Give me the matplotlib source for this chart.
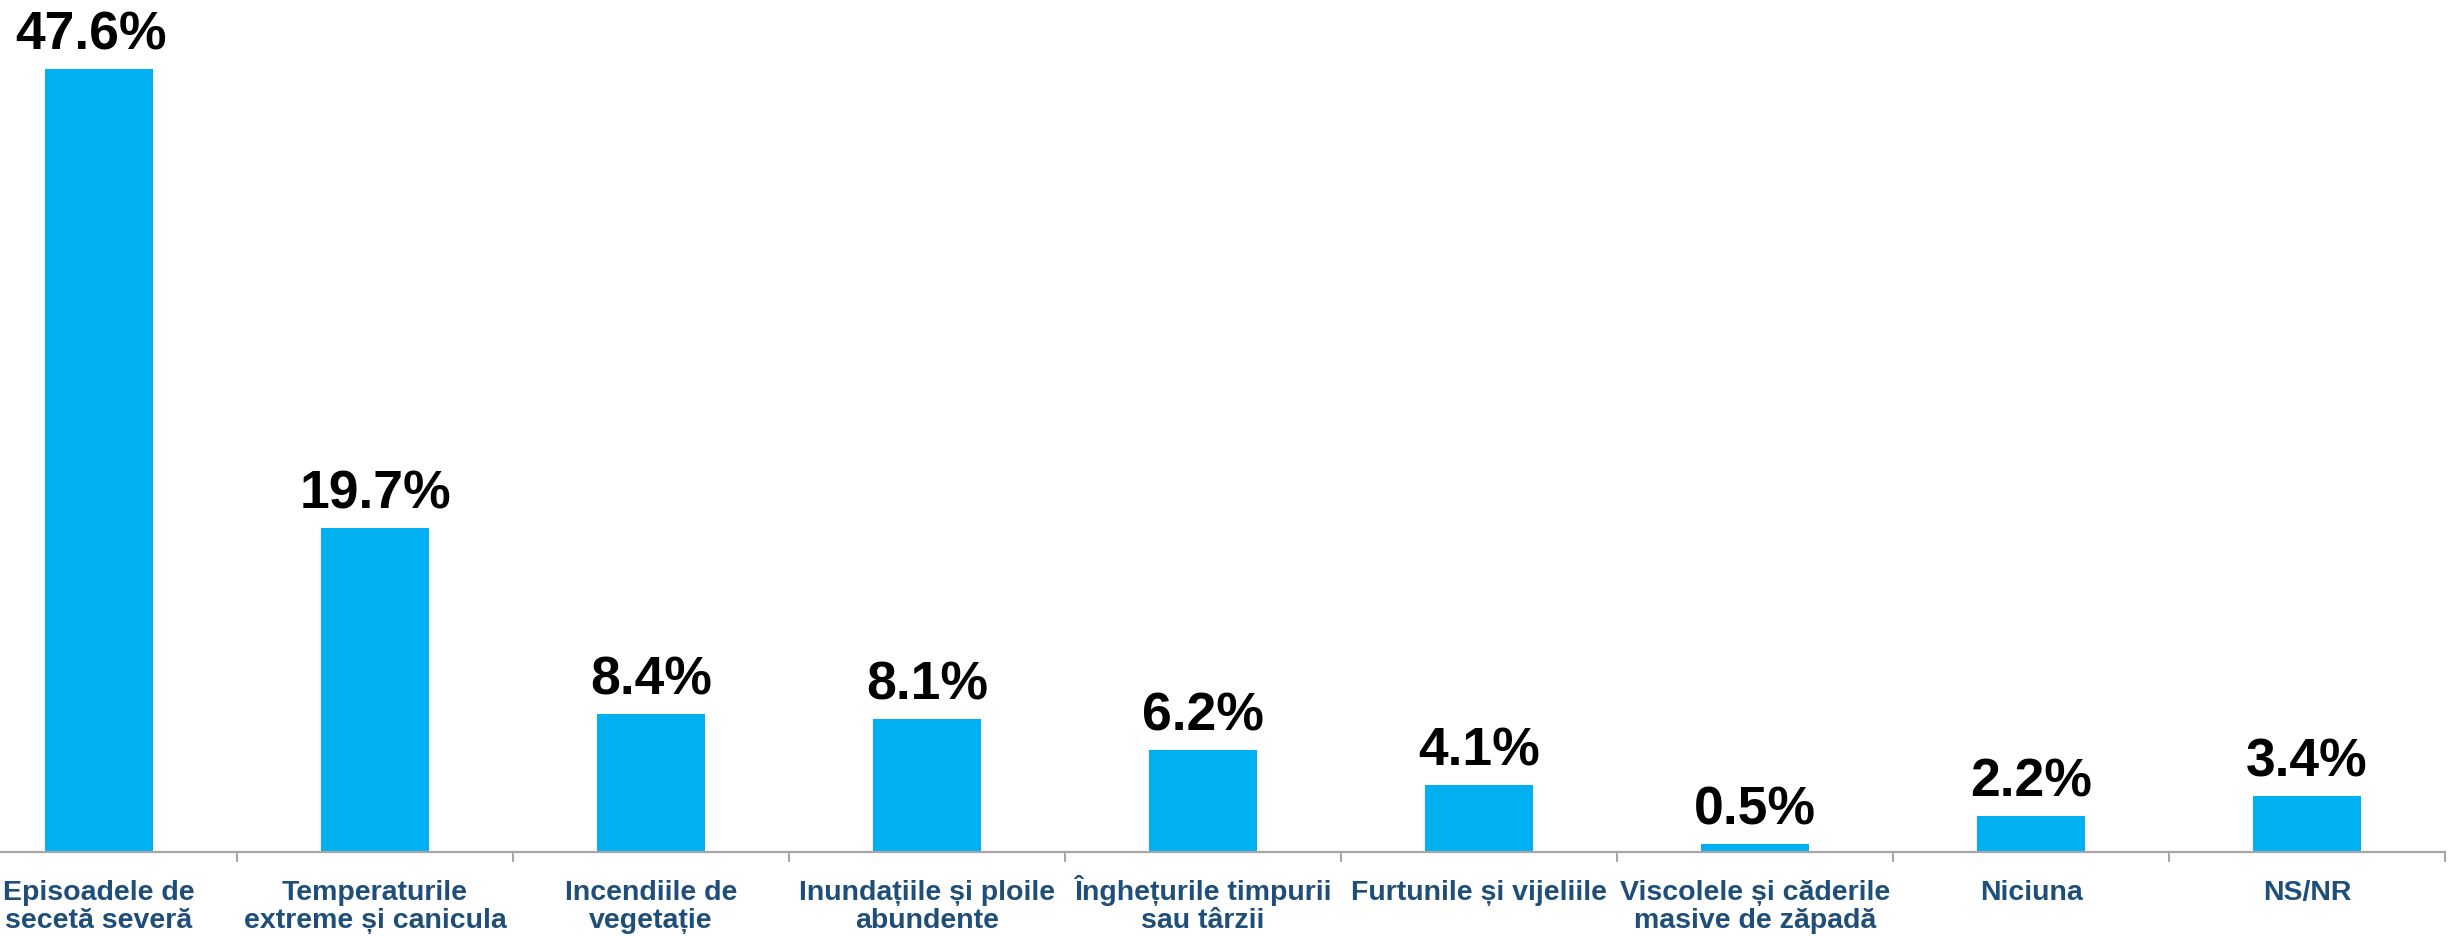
import matplotlib
matplotlib.use("Agg")
import matplotlib.pyplot as plt
import numpy as np

categories = [
    "Episoadele de\nsecetă severă",
    "Temperaturile\nextreme și canicula",
    "Incendiile de\nvegetație",
    "Inundațiile și ploile\nabundente",
    "Înghețurile timpurii\nsau târzii",
    "Furtunile și vijeliile",
    "Viscolele și căderile\nmasive de zăpadă",
    "Niciuna",
    "NS/NR",
]
values = [47.6, 19.7, 8.4, 8.1, 6.2, 4.1, 0.5, 2.2, 3.4]
value_labels = ["47.6%", "19.7%", "8.4%", "8.1%", "6.2%", "4.1%", "0.5%", "2.2%", "3.4%"]

plt.rcParams['font.family'] = ['Liberation Sans', 'DejaVu Sans']

W, H = 2450, 936
fig = plt.figure(figsize=(W / 100, H / 100), dpi=100)
axis_y = 852
ax = fig.add_axes([0, (H - axis_y) / H, 2445 / W, axis_y / H])

x = np.arange(len(categories))
ax.bar(x, values, width=0.39, color="#00B0F0", zorder=2)

ax.set_xlim(-99 / 276, 8.5)
ax.set_ylim(0, axis_y / 16.45)

for i, (xi, v, lab) in enumerate(zip(x, values, value_labels)):
    dx = -5.4 if i == 0 else 0
    ax.annotate(lab, (xi, v), xytext=(dx, 14), textcoords="offset points",
                ha="center", va="baseline", fontsize=38.5, fontweight="bold",
                color="black", annotation_clip=False)

# category labels: each line placed on its own baseline
first_baseline = -34.5   # points below the axis
line_step = 20.5         # points between baselines
for xi, cat in zip(x, categories):
    for k, line in enumerate(cat.split("\n")):
        ax.annotate(line, (xi, 0), xytext=(0, first_baseline - k * line_step),
                    textcoords="offset points", ha="center", va="baseline",
                    fontsize=20.5, fontweight="bold", color="#1F4E79",
                    annotation_clip=False)

for s in ["top", "left", "right"]:
    ax.spines[s].set_visible(False)
ax.spines["bottom"].set_color("#A6A6A6")
ax.spines["bottom"].set_linewidth(1.6)
ax.yaxis.set_visible(False)

ax.set_xticks(x)
ax.set_xticklabels([])
ax.tick_params(axis="x", which="major", length=0)
ax.set_xticks(np.arange(0.5, 8.6, 1.0), minor=True)
ax.tick_params(axis="x", which="minor", length=7, width=1.4, color="#A6A6A6")

fig.savefig("out.png", dpi=100)
